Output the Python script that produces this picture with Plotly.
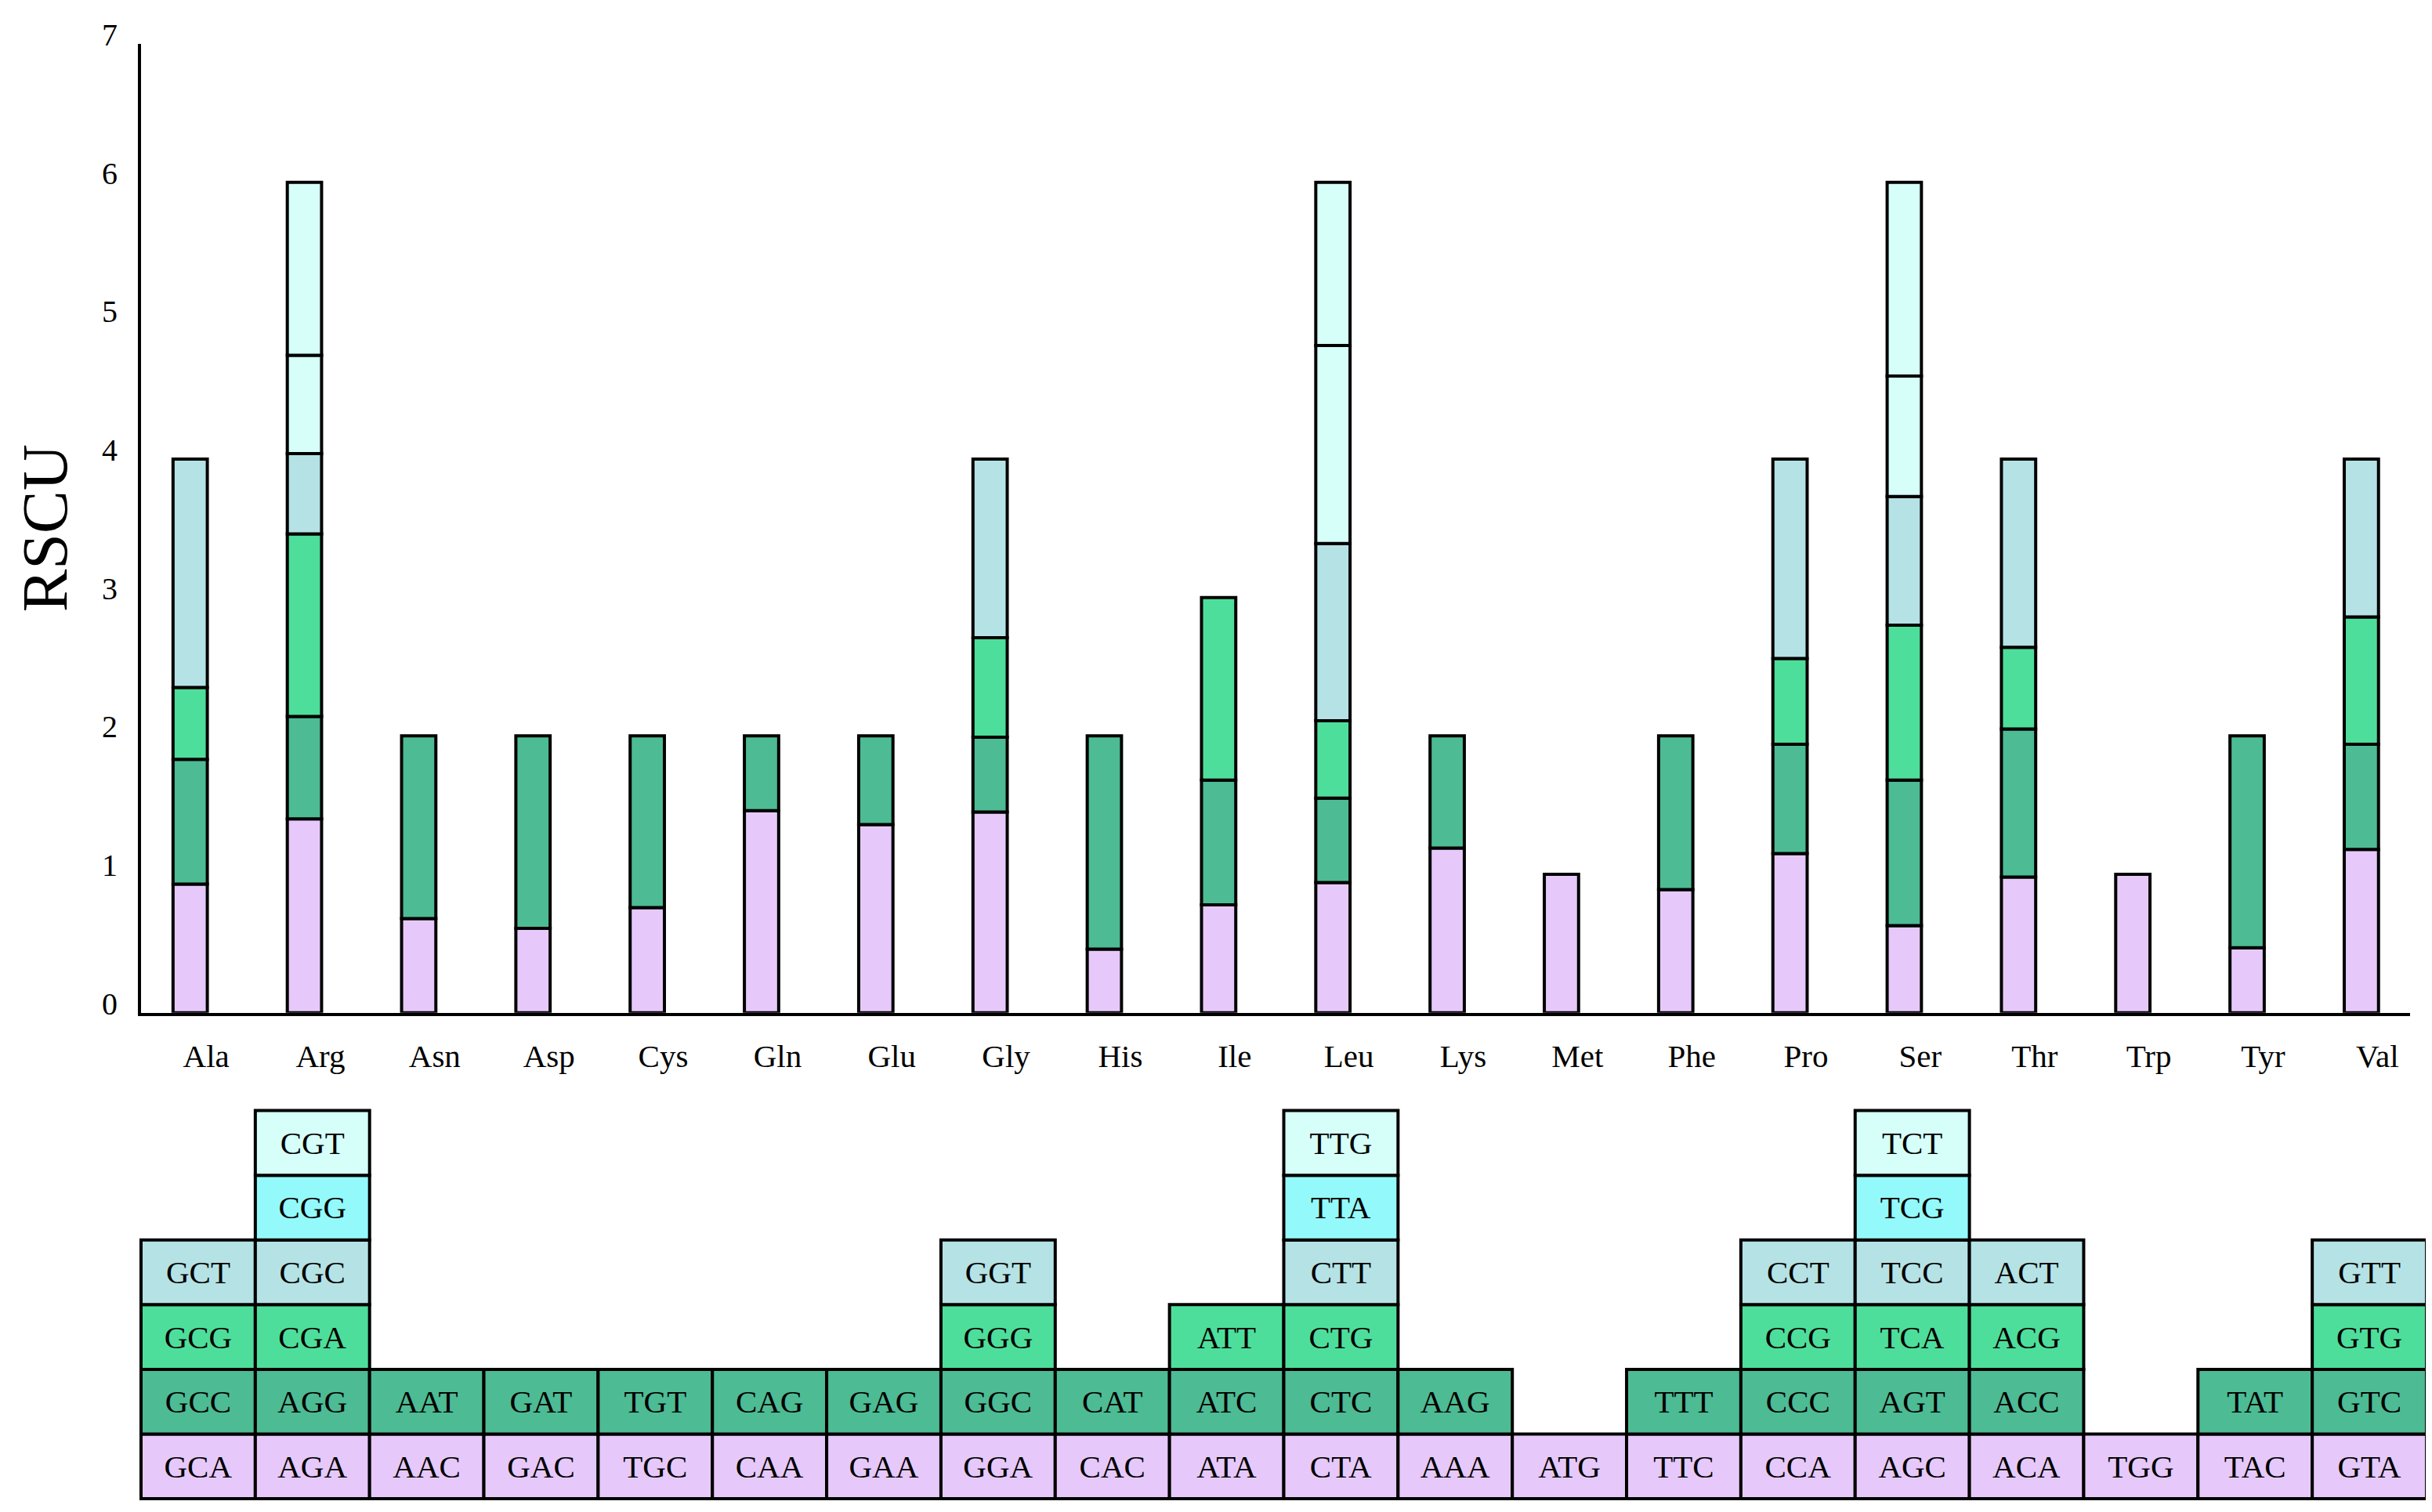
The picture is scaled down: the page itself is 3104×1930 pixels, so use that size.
import plotly.graph_objects as go

amino_acids = ["Ala", "Arg", "Asn", "Asp", "Cys", "Gln", "Glu", "Gly", "His", "Ile",
               "Leu", "Lys", "Met", "Phe", "Pro", "Ser", "Thr", "Trp", "Tyr", "Val"]

# codons per amino acid, listed bottom -> top
codons_by_aa = [
    ["GCA", "GCC", "GCG", "GCT"],
    ["AGA", "AGG", "CGA", "CGC", "CGG", "CGT"],
    ["AAC", "AAT"],
    ["GAC", "GAT"],
    ["TGC", "TGT"],
    ["CAA", "CAG"],
    ["GAA", "GAG"],
    ["GGA", "GGC", "GGG", "GGT"],
    ["CAC", "CAT"],
    ["ATA", "ATC", "ATT"],
    ["CTA", "CTC", "CTG", "CTT", "TTA", "TTG"],
    ["AAA", "AAG"],
    ["ATG"],
    ["TTC", "TTT"],
    ["CCA", "CCC", "CCG", "CCT"],
    ["AGC", "AGT", "TCA", "TCC", "TCG", "TCT"],
    ["ACA", "ACC", "ACG", "ACT"],
    ["TGG"],
    ["TAC", "TAT"],
    ["GTA", "GTC", "GTG", "GTT"],
]

# RSCU values per amino acid, same order as codons_by_aa
rscu_by_aa = [
    [0.93, 0.90, 0.52, 1.65],
    [1.40, 0.74, 1.32, 0.58, 0.71, 1.25],
    [0.68, 1.32],
    [0.61, 1.39],
    [0.76, 1.24],
    [1.46, 0.54],
    [1.36, 0.64],
    [1.45, 0.54, 0.72, 1.29],
    [0.46, 1.54],
    [0.78, 0.90, 1.32],
    [0.94, 0.61, 0.56, 1.28, 1.43, 1.18],
    [1.19, 0.81],
    [1.00],
    [0.89, 1.11],
    [1.15, 0.79, 0.62, 1.44],
    [0.63, 1.05, 1.12, 0.93, 0.87, 1.40],
    [0.98, 1.07, 0.59, 1.36],
    [1.00],
    [0.47, 1.53],
    [1.18, 0.76, 0.92, 1.14],
]

y_ticks = [0, 1, 2, 3, 4, 5, 6, 7]

bar_colors = ["#E6C9FA", "#4DBB94", "#4EDE9B", "#B5E2E5", "#D6FFFA", "#D6FFFA"]
cell_colors = ["#E6C9FA", "#4DBB94", "#4EDE9B", "#B5E2E5", "#94F9FA", "#D6FFFA"]

FONT = "Liberation Serif"
BAR_SHIFT = 0.07
LINE_W = 4

fig = go.Figure()

n_levels = max(len(c) for c in codons_by_aa)
for k in range(n_levels):
    xs, ys, bases, cx, ctext = [], [], [], [], []
    for i, (cods, vals) in enumerate(zip(codons_by_aa, rscu_by_aa)):
        if k < len(vals):
            xs.append(i - BAR_SHIFT)
            ys.append(vals[k])
            bases.append(sum(vals[:k]))
            cx.append(i)
            ctext.append(cods[k])
    # stacked RSCU bar segments
    fig.add_trace(go.Bar(
        x=xs, y=ys, base=bases, width=0.30,
        marker=dict(color=bar_colors[k], line=dict(color="black", width=LINE_W)),
        xaxis="x", yaxis="y", showlegend=False, hoverinfo="skip"))
    # codon table cells
    fig.add_trace(go.Bar(
        x=cx, y=[1] * len(cx), base=[k] * len(cx), width=1.0,
        marker=dict(color=cell_colors[k], line=dict(color="black", width=LINE_W)),
        text=ctext, textposition="inside", insidetextanchor="middle",
        textangle=0, constraintext="none",
        textfont=dict(family=FONT, size=41, color="black"),
        xaxis="x2", yaxis="y2", showlegend=False, hoverinfo="skip"))

W, H = 3104, 1930
ml, mr, mt, mb = 168, 10, 37, 11
pw, ph = W - ml - mr, H - mt - mb
unit_px = 145.85
row_px = 500 / 6

def px_x(p):
    return (p - ml) / pw

def px_y(p):
    return (H - mb - p) / ph

fig.update_layout(
    width=W, height=H,
    margin=dict(l=ml, r=mr, t=mt, b=mb),
    plot_bgcolor="white", paper_bgcolor="white",
    barmode="overlay",
    font=dict(family=FONT, color="black"),
    xaxis=dict(
        domain=[px_x(172), px_x(3068)],
        range=[-0.5, -0.5 + (3068 - 172) / unit_px],
        tickmode="array",
        tickvals=[i + BAR_SHIFT for i in range(len(amino_acids))],
        ticktext=amino_acids,
        tickfont=dict(family=FONT, size=41, color="black"),
        ticks="", ticklabelstandoff=16,
        showline=True, linecolor="black", linewidth=LINE_W,
        showgrid=False, zeroline=False, fixedrange=True),
    yaxis=dict(
        domain=[px_y(1289), px_y(41)],
        range=[0, 7],
        tickmode="array", tickvals=y_ticks,
        tickfont=dict(family=FONT, size=40, color="black"),
        ticks="", ticklabelstandoff=18, ticklabelshift=-12,
        showline=True, linecolor="black", linewidth=LINE_W,
        showgrid=False, zeroline=False, fixedrange=True),
    xaxis2=dict(
        domain=[0, 1],
        range=[-0.5 - (172 - ml) / unit_px, 19.5 + (W - mr - 3089) / unit_px],
        visible=False, fixedrange=True),
    yaxis2=dict(
        domain=[0, px_y(1411)],
        range=[-(H - mb - 1915) / row_px, 6 + 4 / row_px],
        visible=False, fixedrange=True),
    annotations=[dict(
        text="RSCU", textangle=-90,
        x=px_x(49), y=(px_y(1289) + px_y(41)) / 2,
        xref="paper", yref="paper", xanchor="center", yanchor="middle",
        showarrow=False, font=dict(family=FONT, size=82, color="black"))],
)

fig.write_html("out.html")
